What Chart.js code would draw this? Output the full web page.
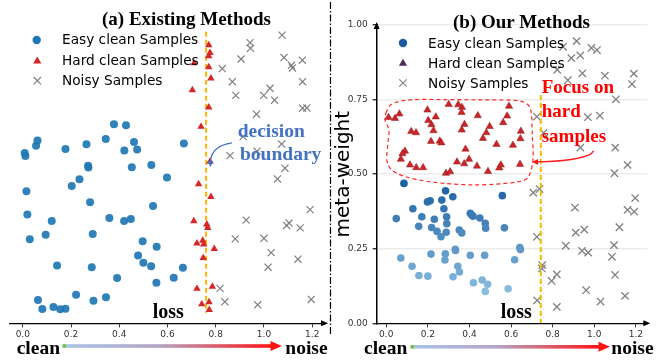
<!DOCTYPE html>
<html><head><meta charset="utf-8">
<script src="https://cdn.jsdelivr.net/npm/chart.js@4.4.1/dist/chart.umd.min.js"></script>
<style>
html,body{margin:0;padding:0;background:#fff;}
#wrap{position:relative;width:668px;height:360px;overflow:hidden;background:#fff;}
canvas{position:absolute;top:0;}
.t{position:absolute;white-space:nowrap;font-family:"Liberation Serif","Times New Roman",serif;font-weight:bold;line-height:1;color:#000;}
.lg{position:absolute;white-space:nowrap;font-family:"DejaVu Sans",sans-serif;font-size:13.7px;line-height:1;color:#000;}
svg{position:absolute;left:0;top:0;pointer-events:none;}
</style></head>
<body><div id="wrap">
<canvas id="cL" width="334" height="360" style="left:0"></canvas>
<canvas id="cR" width="334" height="360" style="left:334px"></canvas>
<svg width="668" height="360" viewBox="0 0 668 360">
  <defs>
    <linearGradient id="gA" x1="0" x2="1" y1="0" y2="0">
      <stop offset="0" stop-color="#a9c3e8"/><stop offset="0.45" stop-color="#b4a4c4"/><stop offset="1" stop-color="#ff1414"/>
    </linearGradient>
  </defs>
  <rect x="62.5" y="344.2" width="4" height="3.6" fill="#6cbf4a"/>
  <rect x="66.5" y="344.2" width="205" height="3.6" fill="url(#gA)"/>
  <polygon points="270.5,341 282,346 270.5,351" fill="#ff1414"/>
  <rect x="410.5" y="345" width="4" height="3.6" fill="#6cbf4a"/>
  <rect x="414.5" y="345" width="185" height="3.6" fill="url(#gA)"/>
  <polygon points="598.5,341.8 610,346.8 598.5,351.8" fill="#ff1414"/>
  <!-- legend markers -->
  <circle cx="36.7" cy="40" r="4.2" fill="#1f77b4"/>
  <polygon points="37.3,56.4 41.4,63.4 33.2,63.4" fill="#d62728"/>
  <path d="M33.6,77 L41,84.4 M41,77 L33.6,84.4" stroke="#808080" stroke-width="1.2"/>
  <circle cx="403" cy="43" r="4.2" fill="#1c5a9e"/>
  <polygon points="403,58.7 407.1,65.7 398.9,65.7" fill="#4a2d5c"/>
  <path d="M399.3,79.3 L406.7,86.7 M406.7,79.3 L399.3,86.7" stroke="#808080" stroke-width="1.2"/>
</svg>
<div class="t" style="left:86.5px;width:200px;text-align:center;top:9.1px;font-size:19px;">(a) Existing Methods</div>
<div class="t" style="left:421.5px;width:200px;text-align:center;top:11.6px;font-size:19px;">(b) Our Methods</div>
<div class="lg" style="left:62px;top:33.4px;">Easy clean Samples</div>
<div class="lg" style="left:62px;top:53.7px;">Hard clean Samples</div>
<div class="lg" style="left:62px;top:73.9px;">Noisy Samples</div>
<div class="lg" style="left:428px;top:36.7px;">Easy clean Samples</div>
<div class="lg" style="left:428px;top:56.7px;">Hard clean Samples</div>
<div class="lg" style="left:428px;top:76.7px;">Noisy Samples</div>
<div class="t" style="left:237.7px;top:121px;font-size:19.5px;color:#4472c4;">decision</div>
<div class="t" style="left:240px;top:144.4px;font-size:19.5px;color:#4472c4;">boundary</div>
<div class="t" style="left:541.7px;top:77.4px;font-size:19px;color:#ff0000;">Focus on</div>
<div class="t" style="left:541.7px;top:101.4px;font-size:19px;color:#ff0000;">hard</div>
<div class="t" style="left:541.7px;top:125.8px;font-size:19px;color:#ff0000;">samples</div>
<div class="t" style="left:152.7px;top:301px;font-size:20px;">loss</div>
<div class="t" style="left:500.7px;top:301px;font-size:20px;">loss</div>
<div class="t" style="left:16.7px;top:338.2px;font-size:19.5px;">clean</div>
<div class="t" style="left:285.3px;top:338.2px;font-size:19.5px;">noise</div>
<div class="t" style="left:364px;top:338.2px;font-size:19.5px;">clean</div>
<div class="t" style="left:611.3px;top:338.2px;font-size:19.5px;">noise</div>
</div>
<script>
// ---------- data ----------
const xTicks = [0, 0.2, 0.4, 0.6, 0.8, 1.0, 1.2];
const yTicks = [0, 0.25, 0.5, 0.75, 1.0];

// (a) Existing Methods: [loss, position]
const existingEasy = [[0.378,0.667],[0.428,0.664],[0.061,0.613],[0.055,0.595],[0.008,0.571],[0.011,0.561],[0.177,0.584],[0.264,0.600],[0.344,0.618],[0.461,0.608],[0.421,0.579],[0.474,0.583],[0.668,0.603],[0.271,0.528],[0.272,0.522],[0.533,0.531],[0.452,0.523],[0.235,0.483],[0.598,0.489],[0.203,0.460],[0.015,0.443],[0.279,0.406],[0.540,0.393],[0.019,0.365],[0.120,0.343],[0.359,0.353],[0.420,0.343],[0.448,0.350],[0.290,0.299],[0.095,0.297],[0.029,0.282],[0.497,0.275],[0.555,0.257],[0.478,0.227],[0.500,0.203],[0.532,0.191],[0.664,0.186],[0.142,0.194],[0.286,0.188],[0.391,0.152],[0.626,0.153],[0.554,0.136],[0.221,0.096],[0.345,0.087],[0.063,0.078],[0.293,0.076],[0.081,0.048],[0.127,0.055],[0.155,0.047],[0.177,0.049]];
const existingHard = [[0.771,0.933],[0.776,0.907],[0.771,0.896],[0.710,0.872],[0.771,0.859],[0.780,0.821],[0.703,0.782],[0.771,0.724],[0.739,0.659],[0.776,0.542],[0.729,0.467],[0.780,0.424],[0.709,0.343],[0.763,0.332],[0.767,0.320],[0.746,0.277],[0.722,0.268],[0.750,0.265],[0.794,0.250],[0.748,0.219],[0.722,0.116],[0.786,0.123],[0.742,0.064],[0.772,0.071],[0.773,0.045]];
const existingNoisy = [[1.075,0.966],[0.942,0.941],[0.944,0.922],[0.905,0.886],[1.083,0.891],[1.114,0.865],[1.118,0.856],[1.159,0.882],[0.827,0.854],[0.869,0.810],[1.160,0.810],[1.025,0.788],[0.999,0.764],[0.883,0.764],[1.044,0.748],[1.160,0.721],[1.178,0.722],[0.969,0.701],[0.914,0.626],[1.073,0.601],[0.859,0.562],[0.971,0.577],[1.087,0.520],[1.056,0.484],[1.191,0.381],[0.926,0.346],[1.094,0.328],[1.104,0.336],[1.150,0.320],[0.881,0.283],[1.000,0.285],[1.030,0.237],[1.141,0.215],[1.017,0.188],[0.818,0.117],[0.838,0.072],[0.974,0.062],[1.196,0.080]];
const existingBoundary = 0.76;
const existingBoundarySpan = [0.035, 0.977];

// (b) Our Methods: [loss, meta-weight]
const oursEasy = [[0.085,0.469],[0.285,0.444],[0.320,0.424],[0.558,0.428],[0.267,0.413],[0.198,0.407],[0.211,0.411],[0.128,0.384],[0.277,0.384],[0.171,0.357],[0.290,0.357],[0.048,0.351],[0.231,0.349],[0.404,0.369],[0.411,0.363],[0.417,0.359],[0.450,0.353],[0.291,0.334],[0.476,0.335],[0.156,0.325],[0.218,0.321],[0.244,0.308],[0.288,0.305],[0.351,0.313],[0.363,0.303],[0.478,0.319],[0.568,0.320],[0.263,0.290],[0.642,0.254],[0.645,0.247],[0.332,0.248],[0.333,0.244],[0.070,0.219],[0.215,0.232],[0.284,0.233],[0.282,0.212],[0.404,0.228],[0.473,0.228],[0.617,0.213],[0.124,0.191],[0.344,0.191],[0.352,0.172],[0.157,0.160],[0.200,0.158],[0.321,0.156],[0.419,0.136],[0.461,0.145],[0.487,0.131],[0.586,0.116],[0.476,0.107]];
const oursHard = [[0.011,0.690],[0.042,0.687],[0.063,0.702],[0.198,0.715],[0.300,0.734],[0.346,0.733],[0.364,0.724],[0.362,0.707],[0.590,0.728],[0.202,0.680],[0.238,0.692],[0.217,0.666],[0.227,0.646],[0.440,0.696],[0.581,0.695],[0.562,0.673],[0.376,0.667],[0.120,0.643],[0.143,0.639],[0.363,0.648],[0.497,0.660],[0.481,0.639],[0.647,0.644],[0.465,0.620],[0.215,0.610],[0.257,0.611],[0.265,0.605],[0.645,0.619],[0.530,0.600],[0.609,0.597],[0.381,0.584],[0.090,0.577],[0.078,0.569],[0.070,0.550],[0.114,0.531],[0.144,0.522],[0.177,0.522],[0.340,0.541],[0.375,0.535],[0.398,0.550],[0.436,0.527],[0.489,0.509],[0.543,0.521],[0.551,0.531],[0.643,0.533],[0.287,0.503],[0.307,0.508]];
const oursNoisy = [[0.915,0.946],[0.850,0.927],[0.986,0.923],[1.013,0.916],[0.890,0.889],[0.933,0.898],[0.822,0.850],[0.943,0.838],[0.873,0.815],[1.051,0.830],[1.190,0.837],[1.181,0.802],[1.104,0.751],[0.969,0.691],[1.027,0.696],[0.724,0.693],[0.756,0.638],[0.933,0.589],[1.101,0.589],[1.160,0.531],[1.097,0.503],[0.707,0.438],[0.737,0.450],[0.907,0.388],[1.197,0.420],[1.160,0.380],[1.192,0.374],[1.121,0.322],[0.724,0.290],[0.911,0.304],[0.952,0.314],[0.863,0.260],[1.095,0.262],[0.941,0.243],[0.971,0.237],[1.085,0.223],[0.750,0.195],[0.748,0.184],[0.820,0.164],[0.795,0.142],[1.100,0.162],[0.961,0.111],[1.148,0.092],[1.030,0.073],[0.725,0.077],[0.820,0.055]];
const oursBoundary = 0.743;
const oursBoundarySpan = [0, 0.765];

// annotation outlines (data units)
const focusOutline = [[-0.001,0.705],[0.027,0.735],[0.114,0.749],[0.282,0.750],[0.451,0.749],[0.619,0.747],[0.677,0.735],[0.697,0.705],[0.702,0.632],[0.706,0.555],[0.692,0.504],[0.663,0.480],[0.571,0.469],[0.427,0.464],[0.282,0.469],[0.186,0.477],[0.090,0.492],[0.027,0.514],[0.003,0.547],[0.008,0.604],[0.013,0.648],[-0.006,0.681]];
const blueArrowPath = [[0.867,0.605],[0.809,0.598],[0.780,0.575],[0.778,0.541],[0.778,0.524]];
const redArrowPath = [[0.997,0.578],[0.980,0.554],[0.884,0.544],[0.725,0.541],[0.701,0.541]];

// ---------- helpers ----------
const pts = a => a.map(p => ({x:p[0], y:p[1]}));
const vline = (x, span) => [{x:x, y:span[1]}, {x:x, y:span[0]}];

function axisArrows(chart, withY){
  const ctx = chart.ctx, a = chart.chartArea;
  ctx.save(); ctx.fillStyle = '#000';
  ctx.beginPath(); ctx.moveTo(a.right+3, a.bottom); ctx.lineTo(a.right-4, a.bottom-3); ctx.lineTo(a.right-4, a.bottom+3); ctx.closePath(); ctx.fill();
  if (withY){ ctx.beginPath(); ctx.moveTo(a.left, a.top-3); ctx.lineTo(a.left-3, a.top+4); ctx.lineTo(a.left+3, a.top+4); ctx.closePath(); ctx.fill(); }
  ctx.restore();
}
function curvedArrow(chart, path, color){
  const ctx = chart.ctx, X = chart.scales.x, Y = chart.scales.y;
  const p = path.map(q => [X.getPixelForValue(q[0]), Y.getPixelForValue(q[1])]);
  ctx.save(); ctx.strokeStyle = color; ctx.fillStyle = color; ctx.lineWidth = 1.3;
  ctx.beginPath(); ctx.moveTo(p[0][0], p[0][1]); ctx.bezierCurveTo(p[1][0],p[1][1],p[2][0],p[2][1],p[3][0],p[3][1]); ctx.stroke();
  const tip = p[4], base = p[3]; const dx = tip[0]-base[0], dy = tip[1]-base[1]; const L = Math.hypot(dx,dy)||1; const ux=dx/L, uy=dy/L;
  const bl = 6, bw = 3;
  ctx.beginPath(); ctx.moveTo(tip[0], tip[1]);
  ctx.lineTo(tip[0]-ux*bl - uy*bw, tip[1]-uy*bl + ux*bw);
  ctx.lineTo(tip[0]-ux*bl + uy*bw, tip[1]-uy*bl - ux*bw);
  ctx.closePath(); ctx.fill();
  ctx.restore();
}
function smoothClosed(ctx, p){
  const n = p.length; ctx.moveTo(p[0][0], p[0][1]);
  for (let i=0;i<n;i++){
    const p0=p[(i-1+n)%n], p1=p[i], p2=p[(i+1)%n], p3=p[(i+2)%n];
    ctx.bezierCurveTo(p1[0]+(p2[0]-p0[0])/6, p1[1]+(p2[1]-p0[1])/6, p2[0]-(p3[0]-p1[0])/6, p2[1]-(p3[1]-p1[1])/6, p2[0], p2[1]);
  }
  ctx.closePath();
}

const leftDeco = { id:'leftDeco', afterDraw(chart){
  axisArrows(chart, false);
  curvedArrow(chart, blueArrowPath, '#4472c4');
  const ctx = chart.ctx; ctx.save(); ctx.strokeStyle='#000'; ctx.lineWidth=1.2; ctx.setLineDash([7,2,1.5,2]);
  ctx.beginPath(); ctx.moveTo(330.5, 2); ctx.lineTo(330.5, 334); ctx.stroke(); ctx.restore();
}};
const rightDeco = { id:'rightDeco', afterDraw(chart){
  axisArrows(chart, true);
  const ctx = chart.ctx, X = chart.scales.x, Y = chart.scales.y;
  const p = focusOutline.map(q => [X.getPixelForValue(q[0]), Y.getPixelForValue(q[1])]);
  ctx.save(); ctx.strokeStyle='#ff2a2a'; ctx.lineWidth=1.2; ctx.setLineDash([4,3]);
  ctx.beginPath(); smoothClosed(ctx, p); ctx.stroke(); ctx.restore();
  curvedArrow(chart, redArrowPath, '#ff1a1a');
}};

function blueShade(ctx){
  const v = ctx.raw ? ctx.raw.y : 0.3;
  let t = Math.max(0, Math.min(1, (v-0.1)/0.37));
  const a=[139,191,224], b=[28,94,162];
  return 'rgb('+a.map((c,i)=>Math.round(c+(b[i]-c)*t)).join(',')+')';
}

function xScale(min, max){
  return { type:'linear', min:min, max:max,
    afterBuildTicks: s => { s.ticks = xTicks.map(v => ({value:v})); },
    afterFit: s => { s.height = 20; },
    ticks:{ font:{family:'DejaVu Sans', size:9}, color:'#333', padding:2, maxRotation:0, autoSkip:false, callback: v => Number(v).toFixed(1) },
    grid:{ drawOnChartArea:false, drawTicks:true, tickLength:4, color:'#333', lineWidth:1 },
    border:{ display:true, color:'#000', width:1.3 } };
}
const baseOpts = { responsive:false, animation:false, devicePixelRatio:1, events:[] };

new Chart(document.getElementById('cL'), {
  type:'scatter',
  data:{ datasets:[
    { label:'Easy clean Samples', data:pts(existingEasy), pointStyle:'circle', pointRadius:4, backgroundColor:'rgba(31,119,180,0.92)', borderWidth:0, order:3 },
    { label:'Hard clean Samples', data:pts(existingHard), pointStyle:'triangle', pointRadius:4.3, backgroundColor:'#d62728', borderWidth:0, order:1 },
    { label:'Noisy Samples', data:pts(existingNoisy), pointStyle:'crossRot', pointRadius:5, borderColor:'#808080', backgroundColor:'#808080', borderWidth:1.2, order:4 },
    { type:'line', label:'decision boundary', data:vline(existingBoundary, existingBoundarySpan), borderColor:'#ffb300', borderWidth:2, borderDash:[5,3], pointRadius:0, order:2 }
  ]},
  options: Object.assign({}, baseOpts, {
    layout:{ padding:{ left:10, right:9, top:25, bottom:16.7 } },
    plugins:{ legend:{display:false}, tooltip:{enabled:false} },
    scales:{ x:xScale(-0.053, 1.253), y:{ type:'linear', min:0, max:1, display:false } }
  }),
  plugins:[leftDeco]
});

new Chart(document.getElementById('cR'), {
  type:'scatter',
  data:{ datasets:[
    { label:'Easy clean Samples', data:pts(oursEasy), pointStyle:'circle', pointRadius:3.8, backgroundColor:blueShade, borderWidth:0, order:3 },
    { label:'Hard clean Samples', data:pts(oursHard), pointStyle:'triangle', pointRadius:4.2, backgroundColor:'#cc2529', borderColor:'#8e1b1b', borderWidth:0.5, order:1 },
    { label:'Noisy Samples', data:pts(oursNoisy), pointStyle:'crossRot', pointRadius:5.2, borderColor:'#808080', backgroundColor:'#808080', borderWidth:1.3, order:4 },
    { type:'line', label:'decision boundary', data:vline(oursBoundary, oursBoundarySpan), borderColor:'#ffb300', borderWidth:2, borderDash:[5,3], pointRadius:0, order:2 }
  ]},
  options: Object.assign({}, baseOpts, {
    layout:{ padding:{ left:0, right:20.7, top:25, bottom:16.7 } },
    plugins:{ legend:{display:false}, tooltip:{enabled:false} },
    scales:{
      x:xScale(-0.046, 1.255),
      y:{ type:'linear', min:0, max:1,
        afterBuildTicks: s => { s.ticks = yTicks.map(v => ({value:v})); },
        afterFit: s => { s.width = 42.7; },
        ticks:{ font:{family:'DejaVu Sans', size:9}, color:'#333', padding:5, callback: v => Number(v).toFixed(2) },
        grid:{ drawOnChartArea:true, drawTicks:true, tickLength:4, tickColor:'#333', lineWidth:1.4,
               color: c => (c.tick && c.tick.value === 0) ? 'rgba(0,0,0,0)' : '#ececec' },
        border:{ display:true, color:'#000', width:1.5 },
        title:{ display:true, text:'meta-weight', color:'#000', font:{family:'DejaVu Sans', size:20, lineHeight:1}, padding:{top:0,bottom:0} } }
    }
  }),
  plugins:[rightDeco]
});
</script>
</body></html>
